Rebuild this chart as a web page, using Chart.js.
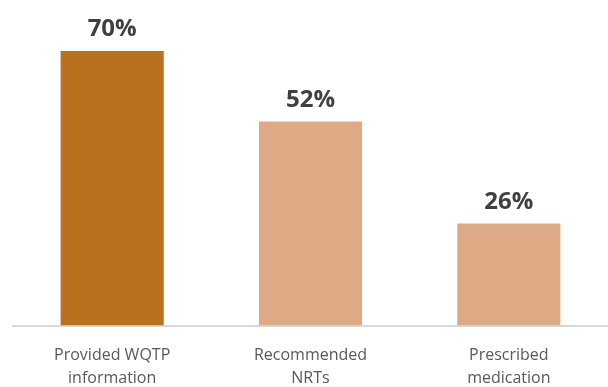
<!DOCTYPE html>
<html>
<head>
<meta charset="utf-8">
<script src="https://cdn.jsdelivr.net/npm/chart.js@4/dist/chart.umd.min.js"></script>
<style>
  html, body { margin: 0; padding: 0; background: #fff; }
  #wrap { width: 608px; height: 387px; }
</style>
</head>
<body>
<div id="wrap"><canvas id="barChart"></canvas></div>
<script>
const categories = [
    ['Provided WQTP', 'information'],
    ['Recommended', 'NRTs'],
    ['Prescribed', 'medication']
];
const percentValues = [70, 52, 26];
const barColors = ['#B8721E', '#DDAA85', '#DDAA85'];

// draws the bold % labels above each bar
const valueLabels = {
    id: 'valueLabels',
    afterDatasetsDraw(chart) {
        const ctx = chart.ctx;
        const meta = chart.getDatasetMeta(0);
        ctx.save();
        ctx.font = 'bold 24px "Open Sans"';
        ctx.fillStyle = '#404040';
        ctx.textAlign = 'center';
        ctx.textBaseline = 'alphabetic';
        meta.data.forEach((bar, i) => {
            ctx.fillText(percentValues[i] + '%', bar.x, bar.y - 15);
        });
        ctx.restore();
    }
};

const ctx = document.getElementById('barChart').getContext('2d');
new Chart(ctx, {
    type: 'bar',
    data: {
        labels: categories,
        datasets: [{
            data: percentValues,
            backgroundColor: barColors,
            borderWidth: 0,
            categoryPercentage: 1,
            barPercentage: 0.52
        }]
    },
    options: {
        responsive: true,
        maintainAspectRatio: false,
        animation: false,
        layout: { padding: { top: 51, left: 13, right: 0, bottom: -21 } },
        plugins: {
            legend: { display: false },
            tooltip: { enabled: false }
        },
        scales: {
            x: {
                grid: { display: false, drawTicks: false },
                border: { display: true, color: '#d9d9d9', width: 2 },
                ticks: {
                    color: '#595959',
                    padding: 18,
                    font: { family: 'Open Sans', size: 16, lineHeight: 1.45 }
                }
            },
            y: {
                display: false,
                min: 0,
                max: 70
            }
        }
    },
    plugins: [valueLabels]
});
</script>
</body>
</html>
